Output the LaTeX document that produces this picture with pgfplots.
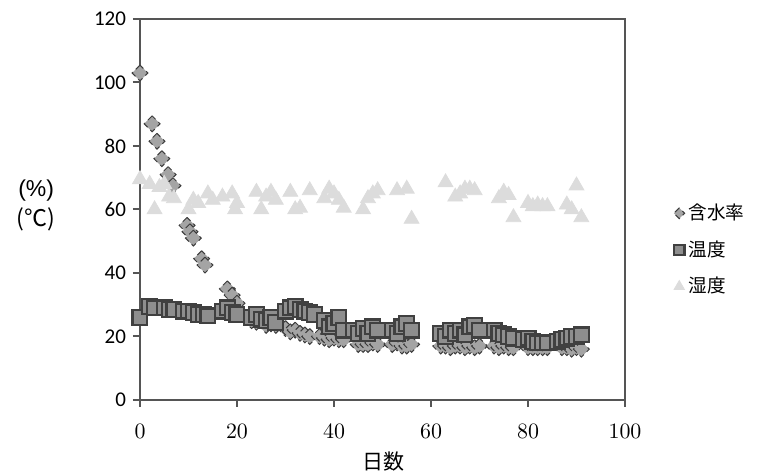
\documentclass[border=0pt]{standalone}
\usepackage{pgfplots}
\pgfplotsset{compat=1.18}
\usepackage{fontspec}
\newfontfamily\cjk{Noto Sans CJK JP}
\newfontfamily\calfont{Carlito}
\newfontfamily\lsans{Liberation Sans}
\definecolor{axgray}{HTML}{555555}
\definecolor{dfill}{HTML}{A4A4A4}
\definecolor{ddraw}{HTML}{3C3C3C}
\definecolor{sfill}{HTML}{8E8E8E}
\definecolor{sdraw}{HTML}{404040}
\definecolor{tfill}{HTML}{DCDCDC}

\pgfplotstableread{
x y
0 103
2.5 87
3.5 81.5
4.5 76
5.8 71
6.8 67.5
9.7 55
10.3 53
11 51
12.7 44.5
13.4 42.5
18 35
19 33
20 30.5
21 27
23 25
24 24.5
25 25
26 23.5
27 24
28 23.5
30 22.5
31 21.5
32 22
33 21
34 20.5
35 20
37 20
38 19.5
39 19
40 19.5
41 19
42 19
45 17.5
46 17.5
47 17.5
48 18
49 17.5
52 17.5
53 18
54 17
55 17
56 17.5
62 17
63 17
64 16.5
65 17
66 17
67 16.5
68 17
69 16.5
70 17
73 17
74 16.5
75 17
76 16.5
77 16.5
80 16.5
81 16.5
82 16.5
83 16.5
84 16.5
87 16.5
88 16.5
89 16
90 16.5
91 16
}\moist

\pgfplotstableread{
x y
0 26
2 29.5
3 29
5 29
6 28.5
7 28.5
9 28
10 28
11 27.5
12 27
13 27
14 26.5
17 28
18 29
19 27.5
20 27
23 26
24 27
25 25.5
26 25
27 26
28 24.5
30 28
31 29
32 29.5
33 28.5
34 28
35 27.5
36 27
38 25
39 23
40 24
41 26
42 22
44 22
45 21
46 22.5
47 21
48 23
49 22
52 22
53 21
54 23
55 24
56 22
62 21
63 20
64 22
65 21
66 22
67 20.5
68 23
69 23.5
70 22
73 22
74 21
75 20.5
76 20
77 19.5
79 19
80 19.5
81 18.5
82 18
83 18
84 18
86 18.5
87 19
88 19.5
89 20
90 20
91 20.5
}\temp

\pgfplotstableread{
x y
0 69.5
2 68
3 60
4 67
5 68
6 64
7 63.5
10 60
11 63
12 62
14 65
15 63
17 64
19 65
19.6 60
20 62
24 65.5
25 60
26 64
27 65.5
28 63
31 65.5
32 60
33 60.5
35 66
38 63.5
39 66.5
40 65
41 63
42 60.5
46 60
47 63.5
48 65
49 66
53 66
55 66.5
56 57
63 68.5
65 64
66 65
67 66.5
68 66.5
69 66
74 63.5
75 65.5
76 64.5
77 57.5
80 62
81 61
82 61.5
83 61
84 61
88 61.5
89 60
90 67.5
91 57.5
}\humid

\begin{document}
\begin{tikzpicture}
\path[use as bounding box] (0,0) rectangle (383pt,237.5pt);
\begin{axis}[
  at={(70pt,37.5pt)}, anchor=south west,
  scale only axis, width=242.5pt, height=190.5pt,
  xmin=0, xmax=100, ymin=0, ymax=120,
  xtick={0,20,...,100}, ytick={0,20,...,120},
  tick pos=left, tick align=outside, major tick length=3.5pt,
  axis line style={axgray, line width=1pt},
  every tick/.style={axgray, line width=1pt},
  xticklabel style={font=\fontsize{10.5}{12}\selectfont, yshift=-5pt},
  yticklabel style={/pgf/number format/assume math mode=true, font=\calfont\fontsize{10.5}{12}\selectfont, xshift=0pt},
  xlabel={\cjk 日数},
  xlabel style={font=\fontsize{10.5}{12}\selectfont, at={(axis description cs:0.503,0)}, anchor=center, yshift=-31pt},
  ylabel={\lsans(\%)\\\cjk(℃)},
  ylabel style={rotate=-90, font=\fontsize{11.5}{15}\selectfont, align=center, at={(axis description cs:-0.214,0.51)}, anchor=center},
  legend style={at={(1.10,0.394)}, anchor=west, draw=none, fill=none,
    font=\cjk\fontsize{9.3}{11}\selectfont, row sep=5pt, inner sep=0pt},
  legend cell align=left,
]
\addplot[only marks, mark=square*, mark size=2.8pt, color=ddraw,
  mark options={rotate=45, fill=dfill, draw=ddraw, line width=0.5pt, densely dashed},
  legend image post style={mark size=1.9pt}]
  table[x=x,y=y]{\moist};
\addlegendentry{含水率}
\addplot[only marks, mark=square*, mark size=3.7pt, color=sdraw,
  mark options={fill=sfill, draw=sdraw, line width=1.1pt, solid},
  legend image post style={mark size=2.6pt}]
  table[x=x,y=y]{\temp};
\addlegendentry{温度}
\addplot[only marks, mark=triangle*, mark size=4.3pt, color=tfill,
  mark options={fill=tfill, draw=tfill, solid},
  legend image post style={mark size=3pt}]
  table[x=x,y=y]{\humid};
\addlegendentry{湿度}
\draw[axgray, line width=1pt] (rel axis cs:0,0) rectangle (rel axis cs:1,1);
\end{axis}
\end{tikzpicture}
\end{document}
